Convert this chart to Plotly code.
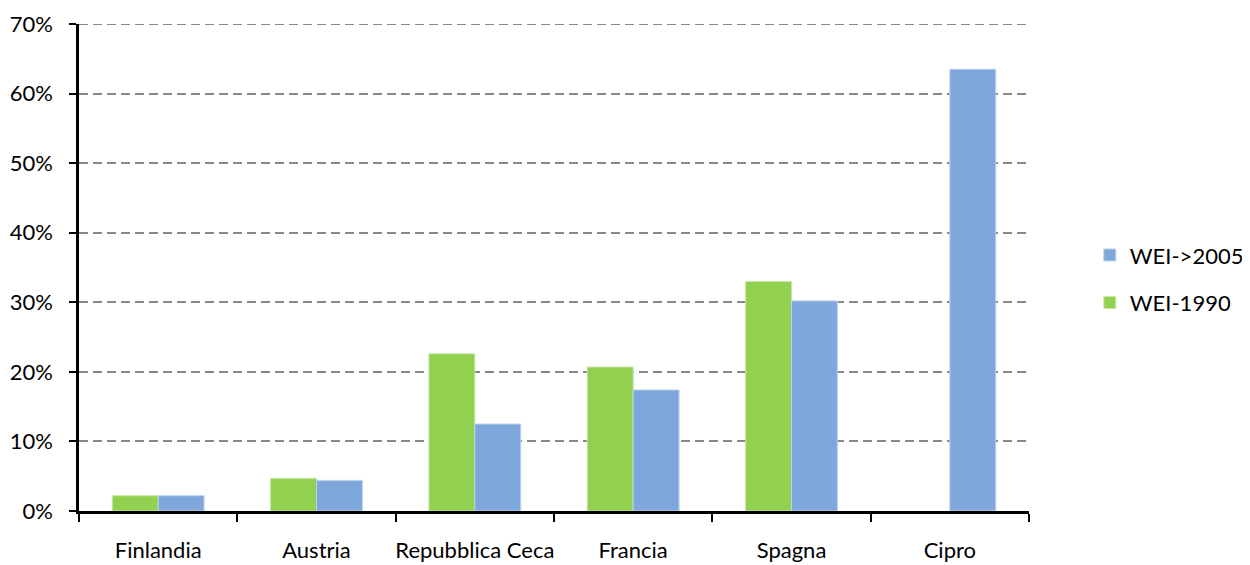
import plotly.graph_objects as go

paesi = ["Finlandia", "Austria", "Repubblica Ceca", "Francia", "Spagna", "Cipro"]
wei_1990 = [0.022, 0.047, 0.226, 0.207, 0.330, None]
wei_2005 = [0.022, 0.044, 0.125, 0.174, 0.302, 0.635]

VERDE = "#92D050"
BLU = "#7EA8DB"
GRIGIO = "#888888"
FONT = "Lato, Open Sans, sans-serif"

fig = go.Figure()
fig.add_trace(go.Bar(x=paesi, y=wei_1990, name="WEI-1990", marker_color=VERDE,
                     marker_line=dict(color="#C9E8A8", width=1),
                     legendgroup="a", legendrank=2))
fig.add_trace(go.Bar(x=paesi, y=wei_2005, name="WEI->2005", marker_color=BLU,
                     marker_line=dict(color="#BCD3EE", width=1),
                     legendgroup="b", legendrank=1))

# griglia al 70% (plotly non la disegna sul bordo)
fig.add_hline(y=0.7, line=dict(color=GRIGIO, width=2, dash="9px,5px"), layer="below")

# la pagina ha 8px di margine: figura 1242x557
fig.update_layout(
    width=1242, height=557,
    barmode="group", bargap=0.42, bargroupgap=0,
    plot_bgcolor="white", paper_bgcolor="white",
    font=dict(family=FONT, size=22, color="black"),
    margin=dict(l=71, r=221, t=16, b=54, autoexpand=False),
    legend=dict(x=1.064, y=0.476, yanchor="middle", xanchor="left",
                traceorder="grouped", tracegroupgap=16,
                font=dict(size=22)),
)
fig.update_xaxes(
    showline=True, linecolor="black", linewidth=2.5,
    ticks="outside", tickson="boundaries", ticklen=8, tickwidth=2,
    tickcolor="black", tickangle=0, ticklabelstandoff=18,
    showgrid=False, automargin=False,
)
fig.update_yaxes(
    range=[0, 0.7], tickvals=[0, 0.1, 0.2, 0.3, 0.4, 0.5, 0.6, 0.7],
    tickformat=".0%",
    showline=True, linecolor="black", linewidth=2.5,
    ticks="outside", ticklen=7, tickwidth=2, tickcolor="black",
    showgrid=True, gridcolor=GRIGIO, gridwidth=2, griddash="9px,5px",
    zeroline=False, ticklabelstandoff=12, automargin=False,
)

fig.write_html("out.html")
